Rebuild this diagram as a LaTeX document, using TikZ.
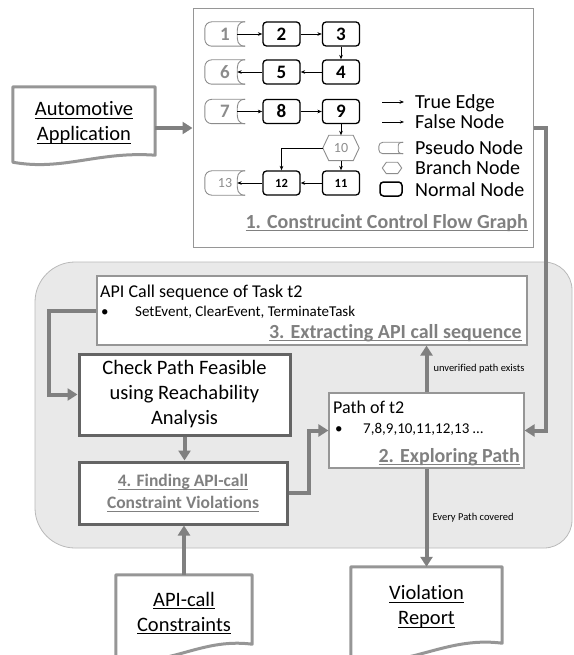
\documentclass[tikz,border=0pt]{standalone}
\usepackage{fontspec}
\setmainfont{Carlito}[Ligatures=NoCommon]
\usetikzlibrary{arrows.meta,calc}
\definecolor{bgfill}{RGB}{233,233,233}
\definecolor{bgline}{RGB}{185,185,185}
\definecolor{thk}{RGB}{128,128,128}
\definecolor{boxdark}{RGB}{100,100,100}
\definecolor{boxlight}{RGB}{150,150,150}
\definecolor{lbl}{RGB}{128,128,128}
\definecolor{pseudo}{RGB}{140,140,140}
\definecolor{docline}{RGB}{150,150,150}
\newcommand{\fsz}[2]{\fontsize{#1}{#2}\selectfont}
\newcommand{\myul}[1]{\begingroup\setbox0=\hbox{#1}\rlap{\rule[-3pt]{\wd0}{1.1pt}}\box0\endgroup}
\newcommand{\pseudopath}[3]{%
  \draw[pseudoline, rounded corners=#2] (#1.north east) -- (#1.north west) -- (#1.south west) -- (#1.south east);
  \draw[pseudoline] (#1.north east) .. controls +(-#3,0) and +(0,-0.8*#3) .. ([xshift=-#3pt]#1.east) .. controls +(0,0.8*#3) and +(-#3,0) .. (#1.south east);}
\newcommand{\hexpath}[2]{%
  \draw[hexline] (#1.west) -- ([xshift=#2pt]#1.north west) -- ([xshift=-#2pt]#1.north east) -- (#1.east) -- ([xshift=-#2pt]#1.south east) -- ([xshift=#2pt]#1.south west) -- cycle;}
\newcommand{\docpath}[2]{%
  \draw[docstyle] (#1.south west) -- (#1.north west) -- (#1.north east) -- ($(#1.south east)+(0,-#2)$) .. controls ($(#1.south east)!0.4!(#1.south west)+(0,-1.6*#2)$) and ($(#1.south east)!0.65!(#1.south west)+(0,1.3*#2)$) .. (#1.south west) -- cycle;}
\begin{document}
\begin{tikzpicture}[x=1pt,y=-1pt,
 bigarrow/.style={draw=thk, line width=4pt, -{Triangle[length=10pt,width=12pt]}},
 cfgedge/.style={draw=black, line width=0.8pt, -{Stealth[length=4.5pt,width=3.6pt]}},
 nnode/.style={draw=black, line width=1.3pt, rounded corners=3.5pt, minimum width=37pt, minimum height=24pt, inner sep=0pt, font=\fsz{19}{20}\bfseries},
 snode/.style={nnode, font=\fsz{12.5}{14}\bfseries},
 pnode/.style={minimum width=40pt, minimum height=24pt, inner sep=0pt, text=pseudo, font=\fsz{19}{20}\bfseries},
 pseudoline/.style={draw=pseudo, line width=0.9pt},
 hnode/.style={minimum width=36pt, minimum height=25pt, inner sep=0pt, text=pseudo, font=\fsz{14}{16}},
 hexline/.style={draw=pseudo, line width=0.9pt},
 legtxt/.style={anchor=base west, inner sep=0pt, font=\fsz{20}{22}},
 whitebox/.style={draw=boxlight, line width=1.2pt, fill=white, inner sep=0pt},
 darkbox/.style={draw=boxdark, line width=3pt, fill=white, inner sep=0pt, align=center},
 docbox/.style={inner sep=0pt},
 docstyle/.style={draw=docline, line width=3pt, line join=round},
 doctxt/.style={align=center, font=\fsz{20.5}{25}, inner sep=0pt},
 steptitle/.style={anchor=base east, inner sep=0pt, text=lbl, font=\fsz{20}{22}\bfseries},
 plain/.style={anchor=base west, inner sep=0pt},
 small/.style={font=\fsz{10.5}{12}, inner sep=0pt}
]
\useasboundingbox (0,0) rectangle (573,655);
% background region
\path[fill=bgfill, draw=bgline, line width=0.8pt] (35,302) .. controls (35,280) and (53,262) .. (75,262) -- (544,262) .. controls (559.5,262) and (572,274.5) .. (572,290) -- (572,520) .. controls (572,535.5) and (559.5,548) .. (544,548) -- (75,548) .. controls (53,548) and (35,530) .. (35,508) -- cycle;

% CFG box
\node[draw=boxlight, line width=1pt, minimum width=340pt, minimum height=238pt, inner sep=0pt] (cfg) at (363,128) {};

\node[pnode] (p1) at (225,34) {1};
\node[nnode] (n2) at (281.5,34) {2};
\node[nnode] (n3) at (341,34) {3};
\node[pnode] (p6) at (225,72) {6};
\node[nnode] (n5) at (281.5,72) {5};
\node[nnode] (n4) at (341,72) {4};
\node[pnode] (p7) at (225,111.5) {7};
\node[nnode] (n8) at (281.5,111.5) {8};
\node[nnode] (n9) at (341,111.5) {9};
\node[hnode] (n10) at (341,148) {10};
\node[pnode, font=\fsz{14}{16}] (p13) at (225,183) {13};
\node[snode] (n12) at (281.5,183) {12};
\node[snode] (n11) at (341,183) {11};
\foreach \q in {p1,p6,p7,p13} {\pseudopath{\q}{7pt}{8}}
\hexpath{n10}{6}

\draw[cfgedge] ([xshift=-8pt]p1.east) -- (n2.west);
\draw[cfgedge] (n2.east) -- (n3.west);
\draw[cfgedge] (n3.south) -- (n4.north);
\draw[cfgedge] (n4.west) -- (n5.east);
\draw[cfgedge] (n5.west) -- ([xshift=-8pt]p6.east);
\draw[cfgedge] ([xshift=-8pt]p7.east) -- (n8.west);
\draw[cfgedge] (n8.east) -- (n9.west);
\draw[cfgedge] (n9.south) -- (n10.north);
\draw[cfgedge] (n10.south) -- (n11.north);
\draw[cfgedge] (n10.west) -| (n12.north);
\draw[cfgedge] (n11.west) -- (n12.east);
\draw[cfgedge] (n12.west) -- ([xshift=-8pt]p13.east);

% legend
\coordinate (lta) at (382,102); \coordinate (ltb) at (404,102);
\draw[cfgedge] (lta) -- (ltb);
\coordinate (lfa) at (382,122); \coordinate (lfb) at (404,122);
\draw[draw=black, line width=0.5pt, -{Stealth[length=4pt,width=3pt]}] (lfa) -- (lfb);
\node[pnode, minimum width=24pt, minimum height=11pt] (lp) at (391,148) {};
\pseudopath{lp}{4pt}{5}
\node[hnode, minimum width=19pt, minimum height=11pt] (lh) at (392,168) {};
\hexpath{lh}{4}
\node[nnode, minimum width=22pt, minimum height=14pt, line width=1.5pt] (ln) at (391,189) {};
\node[legtxt] (lg1) at (415,108.5) {True Edge};
\node[legtxt] (lg2) at (415,128.5) {False Node};
\node[legtxt] (lg3) at (415,154) {Pseudo Node};
\node[legtxt] (lg4) at (415,174.5) {Branch Node};
\node[legtxt] (lg5) at (415,196.5) {Normal Node};
\node[steptitle] (t1) at (528,228) {\myul{1. Construcint Control Flow Graph}};

% API call sequence box
\node[whitebox, minimum width=430pt, minimum height=69pt] (api) at (312,310.5) {};
\node[plain, font=\fsz{18}{20}] (apit1) at (100,297) {API Call sequence of Task t2};
\node[plain, font=\fsz{15}{17}] (apib) at (101,316) {•};
\node[plain, font=\fsz{15}{17}] (apit2) at (135,316) {SetEvent, ClearEvent, TerminateTask};
\node[steptitle] (apit3) at (522,338) {\myul{3. Extracting API call sequence}};

% check / find boxes
\node[darkbox, minimum width=211pt, minimum height=81pt, font=\fsz{20.5}{25}] (check) at (184.5,394.5) {Check Path Feasible\\using Reachability\\Analysis};
\node[darkbox, minimum width=208pt, minimum height=62pt, text=lbl, font=\fsz{17.5}{22}\bfseries] (find) at (183,493) {\myul{4. Finding API-call}\\\myul{Constraint Violations}};

% path box
\node[whitebox, minimum width=195pt, minimum height=75pt] (path) at (426.5,430.5) {};
\node[plain, font=\fsz{18}{20}] (patht1) at (333,413) {Path of t2};
\node[plain, font=\fsz{15}{17}] (pathb) at (335,433) {•};
\node[plain, font=\fsz{15}{17}] (patht2) at (363,433) {7,8,9,10,11,12,13 …};
\node[steptitle] (patht3) at (520,462) {\myul{2. Exploring Path}};

% documents
\node[docbox, minimum width=142pt, minimum height=75pt] (auto) at (84,124.5) {};
\docpath{auto}{7}
\node[doctxt] (autot) at (84,123) {\myul{Automotive}\\\myul{Application}};
\node[docbox, minimum width=136pt, minimum height=81pt] (apic) at (184,615.5) {};
\docpath{apic}{12}
\node[doctxt] (apict) at (184,613) {\myul{API-call}\\\myul{Constraints}};
\node[docbox, minimum width=151pt, minimum height=89pt] (viol) at (426.5,611.5) {};
\docpath{viol}{13}
\node[doctxt] (violt) at (426.5,607) {\myul{Violation}\\\myul{Report}};

% thick connectors
\coordinate (autoout) at ([yshift=-3.5pt]auto.east);
\draw[bigarrow] (autoout) -- (autoout -| cfg.west);
\draw[bigarrow] (cfg.east) -- ++(12,0) |- (path.east);
\draw[bigarrow] (path.north) -- (path.north |- api.south) node[small, midway, right, xshift=5pt] (lblu) {unverified path exists};
\draw[bigarrow] (path.south) -- (path.south |- viol.north) node[small, midway, right, xshift=4pt] (lble) {Every Path covered};
\draw[bigarrow] (api.west) -- ++(-47,0) |- (check.west);
\draw[bigarrow] (check.south) -- (check.south |- find.north);
\draw[bigarrow] (find.east) -- ++(20,0) |- (path.west);
\draw[bigarrow] (apic.north) -- (apic.north |- find.south);
\end{tikzpicture}
\end{document}
